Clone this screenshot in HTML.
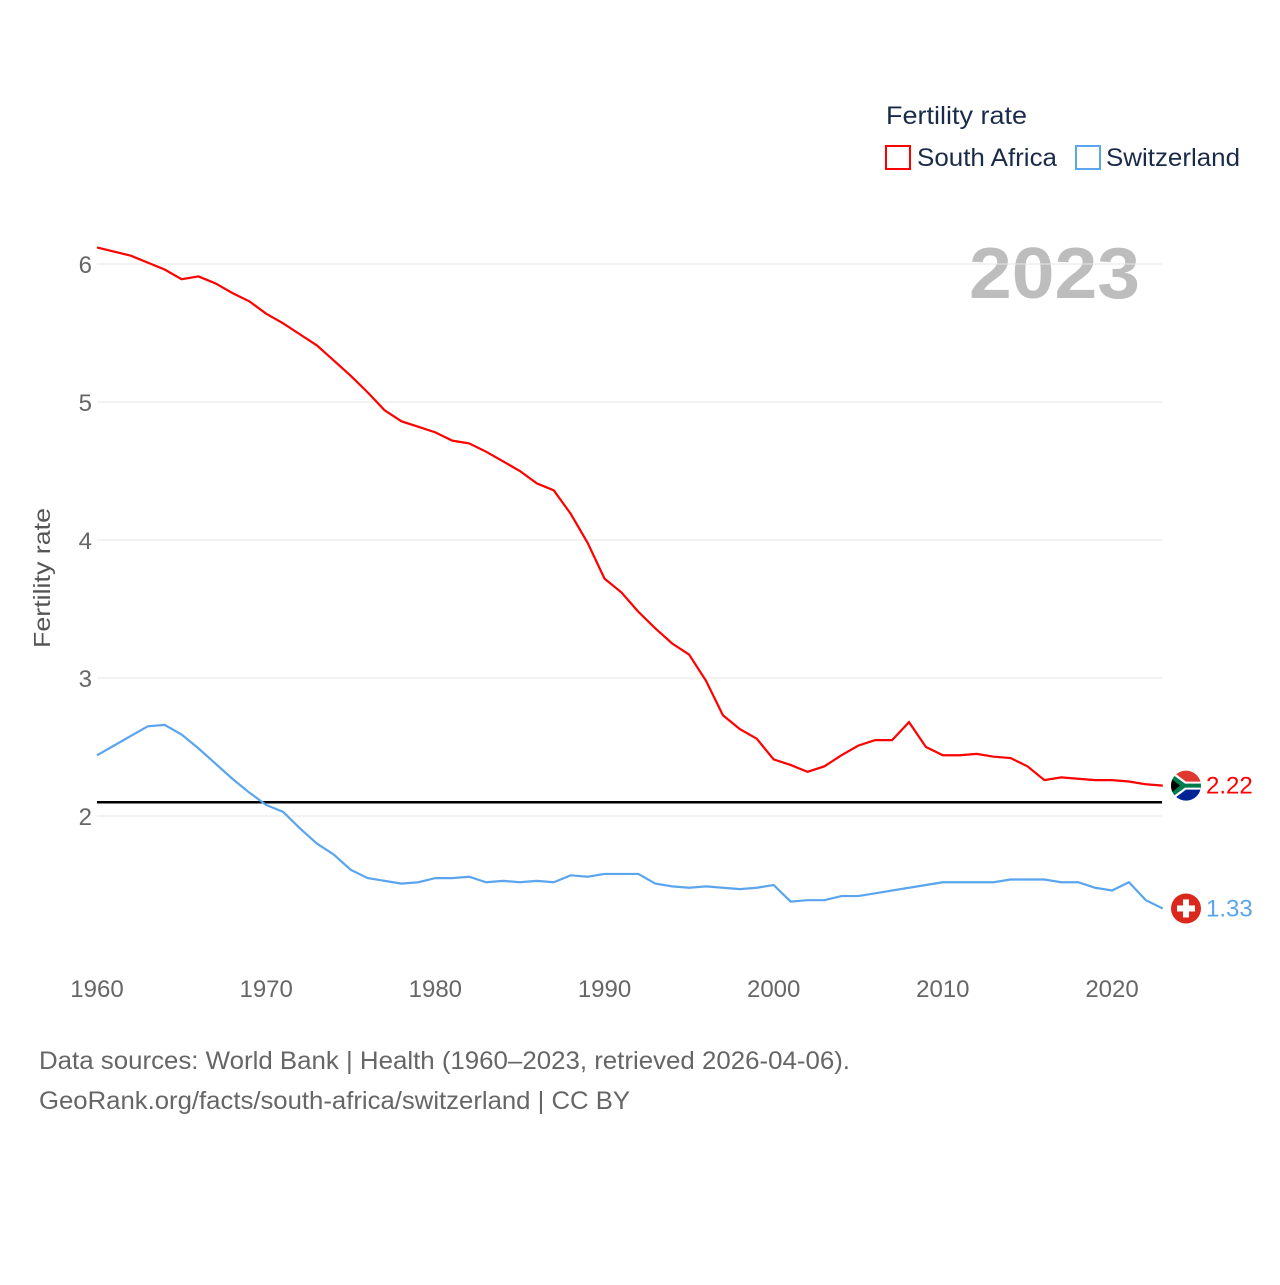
<!DOCTYPE html>
<html><head><meta charset="utf-8"><style>
body{margin:0;background:#fff;font-family:"Liberation Sans",sans-serif;}
svg text{font-family:"Liberation Sans",sans-serif;}
</style></head><body>
<svg id="chart" width="1280" height="1280" xmlns="http://www.w3.org/2000/svg">
<text x="886" y="124" font-size="25" fill="#1a2b4a" textLength="141" lengthAdjust="spacingAndGlyphs">Fertility rate</text>
<g><rect x="886" y="146" width="24" height="23" fill="none" stroke="#f00" stroke-width="2"/><text x="917" y="166" font-size="25" fill="#1a2b4a" textLength="140" lengthAdjust="spacingAndGlyphs">South Africa</text></g>
<g><rect x="1076" y="146" width="24" height="23" fill="none" stroke="#5aa5ee" stroke-width="2"/><text x="1106" y="166" font-size="25" fill="#1a2b4a" textLength="134" lengthAdjust="spacingAndGlyphs">Switzerland</text></g>
<text x="969" y="298" font-size="72" font-weight="bold" fill="#bdbdbd" textLength="171" lengthAdjust="spacingAndGlyphs">2023</text>
<text transform="translate(50,578) rotate(-90)" font-size="23" fill="#555" text-anchor="middle" textLength="140" lengthAdjust="spacingAndGlyphs">Fertility rate</text>
<g id="grid"></g><g id="xt"></g><g id="lines"></g>
<text x="39" y="1069" font-size="25" fill="#666" textLength="811" lengthAdjust="spacingAndGlyphs">Data sources: World Bank | Health (1960–2023, retrieved 2026-04-06).</text>
<text x="39" y="1109" font-size="25" fill="#666" textLength="591" lengthAdjust="spacingAndGlyphs">GeoRank.org/facts/south-africa/switzerland | CC BY</text>
</svg>
<script>
const years=[];for(let y=1960;y<=2023;y++)years.push(y);
const southAfrica=[6.12,6.09,6.06,6.01,5.96,5.89,5.91,5.86,5.79,5.73,5.64,5.57,5.49,5.41,5.30,5.19,5.07,4.94,4.86,4.82,4.78,4.72,4.70,4.64,4.57,4.50,4.41,4.36,4.19,3.98,3.72,3.62,3.48,3.36,3.25,3.17,2.98,2.73,2.63,2.56,2.41,2.37,2.32,2.36,2.44,2.51,2.55,2.55,2.68,2.50,2.44,2.44,2.45,2.43,2.42,2.36,2.26,2.28,2.27,2.26,2.26,2.25,2.23,2.22];
const switzerland=[2.44,2.51,2.58,2.65,2.66,2.59,2.49,2.38,2.27,2.17,2.08,2.03,1.91,1.80,1.72,1.61,1.55,1.53,1.51,1.52,1.55,1.55,1.56,1.52,1.53,1.52,1.53,1.52,1.57,1.56,1.58,1.58,1.58,1.51,1.49,1.48,1.49,1.48,1.47,1.48,1.50,1.38,1.39,1.39,1.42,1.42,1.44,1.46,1.48,1.50,1.52,1.52,1.52,1.52,1.54,1.54,1.54,1.52,1.52,1.48,1.46,1.52,1.39,1.33];
const yTicks=[2,3,4,5,6];
const xTicks=[1960,1970,1980,1990,2000,2010,2020];
const replacement=2.1;
const NS='http://www.w3.org/2000/svg';
const X=y=>97+(y-1960)*16.917;
const Y=v=>1092-v*138;
function mk(t,a,p){const e=document.createElementNS(NS,t);for(const k in a)e.setAttribute(k,a[k]);p.appendChild(e);return e;}
const grid=document.getElementById('grid');
yTicks.forEach(v=>{
 const l=mk('line',{x1:97,x2:1162,y1:Y(v),y2:Y(v),stroke:'#e6e6e6','stroke-width':1},grid);
 
 
 const t=mk('text',{x:92,y:Y(v)+9,'font-size':24,fill:'#666','text-anchor':'end'},grid);t.textContent=v;
 
 
});
const xt=document.getElementById('xt');
xTicks.forEach(v=>{
 const t=mk('text',{x:X(v),y:997,'font-size':24,fill:'#666','text-anchor':'middle'},xt);t.textContent=v;
 
 
});
const g=document.getElementById('lines');
const rl=mk('line',{x1:97,x2:1162,y1:Y(replacement),y2:Y(replacement),stroke:'#000','stroke-width':2.5},g);


function series(vals,color,name){
 const p=mk('polyline',{points:vals.map((v,i)=>X(years[i])+','+Y(v)).join(' '),fill:'none',stroke:color,'stroke-width':2.2},g);
 
 
 const last=vals[vals.length-1];
 const t=mk('text',{x:1206,y:Y(last)+8,'font-size':24,fill:color},g);t.textContent=last.toFixed(2);
 
 
 return Y(last);
}
const ySA=series(southAfrica,'#f00','south-africa');
const yCH=series(switzerland,'#5aa5ee','switzerland');
const fa=mk('g',{},g);


const cp=mk('clipPath',{id:'cSA'},fa);
mk('circle',{cx:1186,cy:ySA,r:15},cp);
const f=mk('g',{'clip-path':'url(#cSA)'},fa);
mk('rect',{x:1170,y:ySA-16,width:32,height:16,fill:'#de3831'},f);
mk('rect',{x:1170,y:ySA,width:32,height:16,fill:'#002395'},f);
mk('path',{d:`M1170 ${ySA-16} L1186 ${ySA-4} H1202 V${ySA+4} H1186 L1170 ${ySA+16}Z`,fill:'#fff'},f);
mk('path',{d:`M1170 ${ySA-13} L1185 ${ySA-2} H1202 V${ySA+2} H1185 L1170 ${ySA+13}Z`,fill:'#007a4d'},f);
mk('path',{d:`M1170 ${ySA-8} L1180 ${ySA} L1170 ${ySA+8}Z`,fill:'#000'},f);
const fc=mk('g',{},g);


mk('circle',{cx:1186,cy:yCH,r:15,fill:'#da291c'},fc);
mk('rect',{x:1183,y:yCH-9,width:6,height:18,fill:'#fff'},fc);
mk('rect',{x:1177,y:yCH-3,width:18,height:6,fill:'#fff'},fc);
</script>
</body></html>
